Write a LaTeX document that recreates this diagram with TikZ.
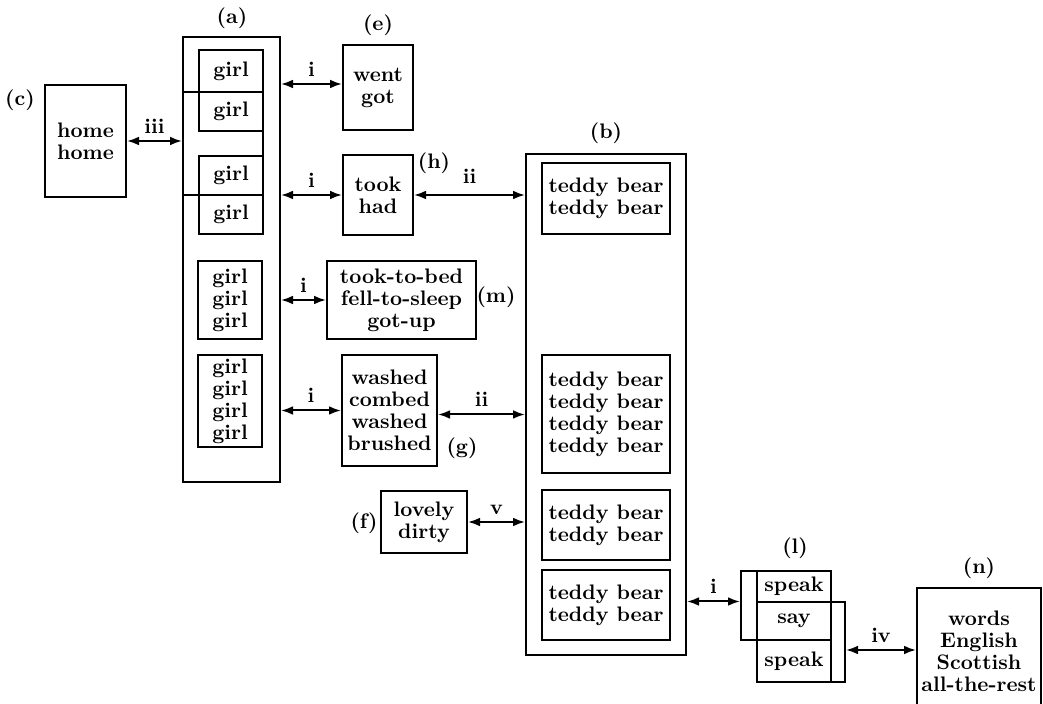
\documentclass[tikz,border=0pt]{standalone}
\usepackage{tikz}
\usetikzlibrary{arrows.meta, positioning, calc}
\tikzset{
  box/.style={draw, line width=1pt, align=center, inner sep=0pt},
  plain/.style={align=center, inner sep=0pt},
  lbl/.style={inner sep=2pt},
  link/.style={{Latex[length=6pt, width=4.4pt]}-{Latex[length=6pt, width=4.4pt]}, line width=1pt},
}

\begin{document}
\begin{tikzpicture}[x=0.5pt, y=-0.5pt, font=\fontsize{10.5}{11}\selectfont\bfseries]
  \useasboundingbox (0,0) rectangle (1043,704);
  \clip (0,0) rectangle (1043,704);

  % Girl column (a)
  \node[box, minimum width=48.5pt, minimum height=222.5pt] (a) at (231.5,259.5) {};
  \node[lbl] (la) at (232,18) {(a)};
  \node[box, minimum width=32pt, minimum height=21pt] (girl1) at (231,71) {girl};
  \node[box, minimum width=32pt, minimum height=19.5pt] (girl2) at (231,111.5) {girl};
  \node[box, minimum width=40pt, minimum height=51.5pt] (pair) at (223,143.5) {};
  \node[box, minimum width=32pt, minimum height=19.5pt] (girl3) at (231,175.5) {girl};
  \node[box, minimum width=32pt, minimum height=19.5pt] (girl4) at (231,214.5) {girl};
  \node[box, minimum width=32pt, minimum height=39pt] (girl5) at (230,300) {girl\\girl\\girl};
  \node[box, minimum width=32pt, minimum height=46pt] (girl6) at (230,401) {girl\\girl\\girl\\girl};

  % Left and middle boxes
  \node[box, minimum width=40.5pt, minimum height=56pt] (c) at (85.5,141) {home\\home};
  \node[lbl] (lc) at (20,100) {(c)};
  \node[box, minimum width=35pt, minimum height=42.5pt] (e) at (378,87.5) {went\\got};
  \node[lbl] (le) at (378,25) {(e)};
  \node[box, minimum width=35pt, minimum height=40pt] (h) at (378,195) {took\\had};
  \node[lbl] (lh) at (434,163) {(h)};
  \node[box, minimum width=74.5pt, minimum height=39pt] (m) at (401.5,300) {took-to-bed\\fell-to-sleep\\got-up};
  \node[lbl] (lm) at (496,297) {(m)};
  \node[box, minimum width=47.5pt, minimum height=55.5pt] (g) at (389.5,410.5) {washed\\combed\\washed\\brushed};
  \node[lbl] (lg) at (462,448) {(g)};
  \node[box, minimum width=43pt, minimum height=31pt] (f) at (424,522) {lovely\\dirty};
  \node[lbl] (lf) at (364,523) {(f)};

  % Teddy bear column (b)
  \node[box, minimum width=80pt, minimum height=250.5pt] (b) at (606,404.5) {};
  \node[lbl] (lb) at (606,133) {(b)};
  \node[box, minimum width=64pt, minimum height=35.5pt] (tb1) at (606,198.5) {teddy bear\\teddy bear};
  \node[box, minimum width=64pt, minimum height=59pt] (tb2) at (606,414) {teddy bear\\teddy bear\\teddy bear\\teddy bear};
  \node[box, minimum width=64pt, minimum height=35pt] (tb3) at (606,525) {teddy bear\\teddy bear};
  \node[box, minimum width=64pt, minimum height=35pt] (tb4) at (606,605) {teddy bear\\teddy bear};

  % Verb group (l)
  \node[box, minimum width=45pt, minimum height=34.5pt] (l1) at (786,605.5) {};
  \node[box, minimum width=44pt, minimum height=40pt] (l2) at (801,642) {};
  \node[box, minimum width=37pt, minimum height=15.5pt] (speak1) at (794,586.5) {speak};
  \node[plain] (say) at (794,621) {say};
  \node[box, minimum width=37pt, minimum height=21pt] (speak2) at (794,661) {speak};
  \node[lbl] (ll) at (795,548) {(l)};

  % Language box (n)
  \node[box, minimum width=62pt, minimum height=63pt] (n) at (979,651) {words\\English\\Scottish\\all-the-rest};
  \node[lbl] (ln) at (979,568) {(n)};

  % Links
  \draw[link] (c.east) -- (c.east -| a.west) node[midway, above] {iii};
  \draw[link] ([yshift=1.75pt]e.west -| a.east) -- ([yshift=1.75pt]e.west) node[midway, above] {i};
  \draw[link] (h.west -| a.east) -- (h.west) node[midway, above] {i};
  \draw[link] (h.east) -- (h.east -| b.west) node[midway, above=2pt] {ii};
  \draw[link] (m.west -| a.east) -- (m.west) node[midway, above] {i};
  \draw[link] (g.west -| a.east) -- (g.west) node[midway, above] {i};
  \draw[link] ([yshift=-2pt]g.east) -- ([yshift=-2pt]g.east -| b.west) node[midway, above] {ii};
  \draw[link] (f.east) -- (f.east -| b.west) node[midway, above] {v};
  \draw[link] ([yshift=2pt]l1.west -| b.east) -- ([yshift=2pt]l1.west) node[midway, above] {i};
  \draw[link] ([yshift=-4pt]l2.east) -- ([yshift=-4pt]l2.east -| n.west) node[midway, above] {iv};
\end{tikzpicture}
\end{document}
